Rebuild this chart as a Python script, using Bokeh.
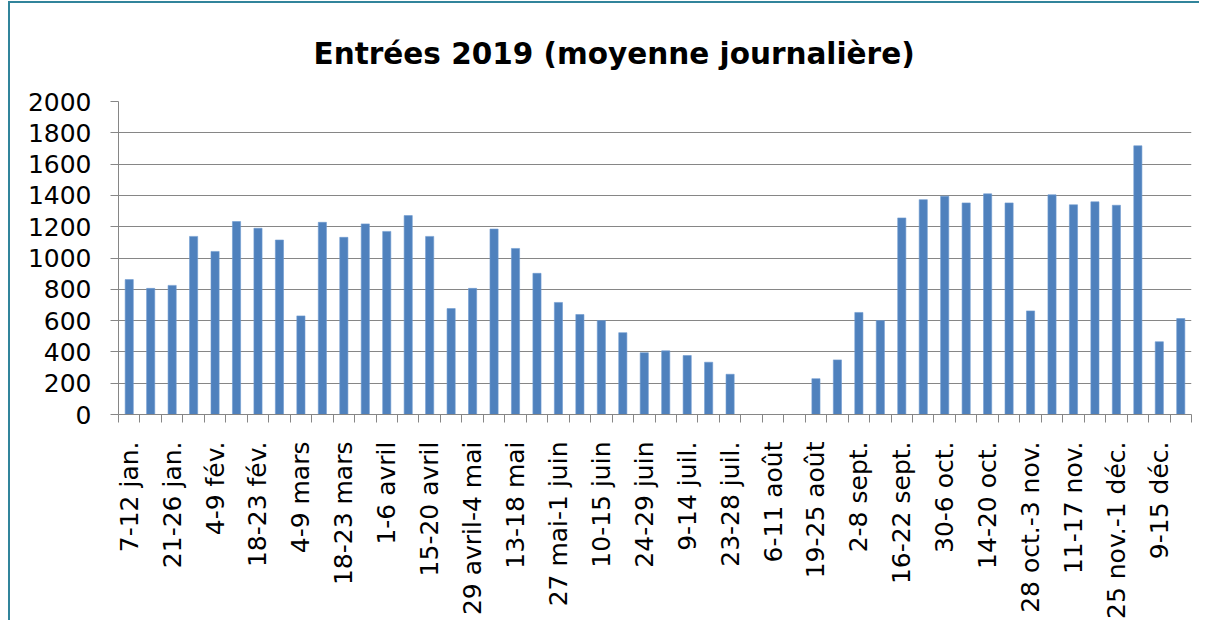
import math
from bokeh.plotting import figure
from bokeh.layouts import column
from bokeh.models import Range1d, FixedTicker, Spacer
from bokeh.embed import file_html
from bokeh.resources import INLINE

# ---- data ----
weeks = [
    "7-12 jan.", "14-19 jan.", "21-26 jan.", "28 jan.-2 fév.", "4-9 fév.",
    "11-16 fév.", "18-23 fév.", "25 fév.-2 mars", "4-9 mars", "11-16 mars",
    "18-23 mars", "25-30 mars", "1-6 avril", "8-13 avril", "15-20 avril",
    "22-27 avril", "29 avril-4 mai", "6-11 mai", "13-18 mai", "20-25 mai",
    "27 mai-1 juin", "3-8 juin", "10-15 juin", "17-22 juin", "24-29 juin",
    "1-6 juil.", "9-14 juil.", "15-20 juil.", "23-28 juil.", "29 juil.-3 août",
    "6-11 août", "12-18 août", "19-25 août", "26 août-1 sept.", "2-8 sept.",
    "9-15 sept.", "16-22 sept.", "23-29 sept.", "30-6 oct.", "7-13 oct.",
    "14-20 oct.", "21-27 oct.", "28 oct.-3 nov.", "4-10 nov.", "11-17 nov.",
    "18-24 nov.", "25 nov.-1 déc.", "2-8 déc.", "9-15 déc.", "16-22 déc.",
]
entrees = [
    862, 806, 825, 1138, 1042, 1233, 1190, 1115, 630, 1228,
    1132, 1218, 1170, 1271, 1138, 677, 806, 1185, 1061, 902,
    716, 639, 600, 523, 395, 407, 377, 334, 257, 0,
    0, 0, 229, 349, 652, 600, 1256, 1373, 1395, 1352,
    1410, 1352, 662, 1404, 1340, 1359, 1337, 1717, 465, 613,
]
y_ticks = list(range(0, 2001, 200))
title_text = "Entrées 2019 (moyenne journalière)"

# ---- figure ----
FONT = "DejaVu Sans"
GREY = "#868686"
n = len(weeks)
idx = list(range(n))

p = figure(
    frame_width=1071, frame_height=311,
    x_range=Range1d(-0.5, n - 0.5), y_range=Range1d(0, 2000),
    output_backend="svg", toolbar_location=None,
    min_border_left=108, min_border_right=10,
    min_border_top=95, min_border_bottom=200,
    title=title_text,
)
p.styles = {
    "border-left": "2px solid #31849b",
    "border-top": "2px solid #31849b",
    "position": "relative",
    "left": "8px",
}
p.title.text_font = FONT
p.title.text_font_size = "29.5px"
p.title.text_font_style = "bold"
p.title.text_color = "black"
p.title.align = "left"
p.title.offset = 195
p.title.standoff = 62

p.vbar(x=idx, top=entrees, width=0.38, fill_color="#4f81bd", line_color="#6f9bd0", line_width=0.6)

# y axis
p.yaxis.ticker = FixedTicker(ticks=y_ticks)
p.yaxis.axis_line_color = GREY
p.yaxis.major_tick_line_color = GREY
p.yaxis.major_tick_out = 8
p.yaxis.major_tick_in = 0
p.yaxis.minor_tick_line_color = None
p.yaxis.major_label_text_font = FONT
p.yaxis.major_label_text_font_size = "25px"
p.yaxis.major_label_text_color = "black"
p.yaxis.major_label_standoff = 19

# x axis
p.xaxis.ticker = FixedTicker(ticks=idx[::2], minor_ticks=[i - 0.5 for i in range(n + 1)])
p.xaxis.major_label_overrides = {i: weeks[i] for i in idx[::2]}
p.xaxis.major_label_orientation = math.pi / 2
p.xaxis.axis_line_color = GREY
p.xaxis.major_tick_line_color = None
p.xaxis.major_tick_out = 0
p.xaxis.major_tick_in = 0
p.xaxis.minor_tick_line_color = GREY
p.xaxis.minor_tick_out = 8
p.xaxis.minor_tick_in = 0
p.xaxis.major_label_text_font = FONT
p.xaxis.major_label_text_font_size = "25px"
p.xaxis.major_label_text_color = "black"
p.xaxis.major_label_standoff = 19

p.xgrid.visible = False
p.ygrid.grid_line_color = GREY
p.ygrid.grid_line_width = 1.2
p.outline_line_color = None
p.background_fill_color = "white"
p.border_fill_color = "white"

layout = column(Spacer(height=1), p)
open("out.html", "w").write(file_html(layout, INLINE))
